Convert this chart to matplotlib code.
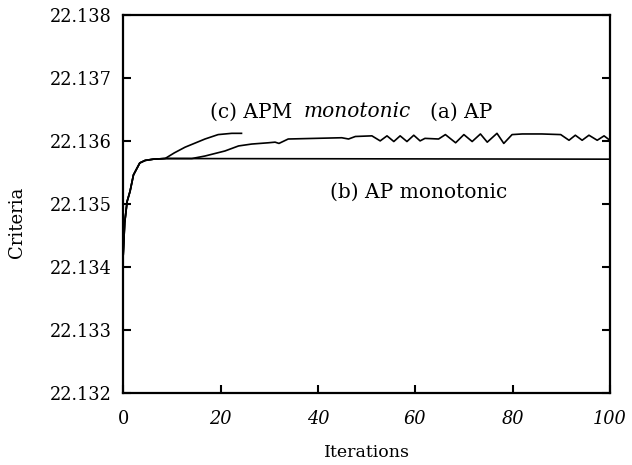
import matplotlib.pyplot as plt
import matplotlib.ticker as mticker

plt.rcParams['font.family'] = ['DejaVu Serif']

# common start of the three runs
start_x = [0, 0.3, 0.8, 1.4, 2.1, 3.4, 4.5, 6.2, 8.6]
start_y = [22.1342, 22.1347, 22.13504, 22.13520, 22.13546, 22.13565, 22.13569, 22.13571, 22.13572]

# (b) AP monotonic
b_x = start_x + [100]
b_y = start_y + [22.13571]

# (c) APM monotonic
c_x = start_x + [10.5, 12.7, 16.8, 19.5, 22.3, 24.3]
c_y = start_y + [22.13581, 22.13590, 22.13603, 22.13610, 22.13612, 22.13612]

# (a) AP
a_x = start_x + [14.1, 16.8, 20.9, 23.7, 26.4, 29.8, 31.2, 32.0, 33.9, 39.4, 44.9,
                 46.3, 47.7, 51.1, 52.8, 54.2, 55.6, 56.9, 58.3, 59.7, 61.0, 62.0,
                 64.8, 66.2, 68.3, 70.0, 71.7, 73.4, 74.8, 76.8, 78.2, 79.9, 82.0,
                 86.0, 89.9, 91.6, 92.9, 94.3, 95.7, 97.4, 98.8, 100]
a_y = start_y + [22.13572, 22.13576, 22.13584, 22.13592, 22.13595, 22.13597, 22.13598,
                 22.13596, 22.13603, 22.13604, 22.13605, 22.13603, 22.13607, 22.13608,
                 22.13600, 22.13608, 22.13599, 22.13608, 22.13599, 22.13609, 22.13600,
                 22.13604, 22.13603, 22.13610, 22.13597, 22.13610, 22.13599, 22.13611,
                 22.13598, 22.13612, 22.13596, 22.13610, 22.13611, 22.13611, 22.13610,
                 22.13601, 22.13609, 22.13601, 22.13609, 22.13601, 22.13608, 22.13601]

x_ticks = [0, 20, 40, 60, 80, 100]
y_ticks = [22.132, 22.133, 22.134, 22.135, 22.136, 22.137, 22.138]

fig = plt.figure(figsize=(6.32, 4.65), dpi=100)
ax = fig.add_axes([0.195, 0.155, 0.77, 0.813])

for xs, ys in [(b_x, b_y), (c_x, c_y), (a_x, a_y)]:
    ax.plot(xs, ys, color='black', lw=1.2)

ax.set_xlim(0, 100)
ax.set_ylim(22.132, 22.138)
ax.set_xticks(x_ticks)
ax.set_yticks(y_ticks)
ax.yaxis.set_major_formatter(mticker.FormatStrFormatter('%.3f'))
ax.tick_params(direction='in', length=6, width=1.5, labelsize=12.8, pad=8)
ax.tick_params(axis='x', pad=12)
ax.tick_params(axis='y', right=True)
for lbl in ax.get_xticklabels()[1:]:
    lbl.set_fontstyle('italic')
for s in ax.spines.values():
    s.set_linewidth(1.6)

ax.text(17.9, 22.13646, '(c) APM', fontsize=14.5, va='center')
ax.text(37.0, 22.13646, 'monotonic', fontsize=14.5, va='center', style='italic')
ax.text(63.0, 22.13646, '(a) AP', fontsize=14.5, va='center')
ax.text(42.5, 22.13519, '(b) AP monotonic', fontsize=14.5, va='center')

ax.set_xlabel('Iterations', fontsize=12.5)
ax.xaxis.set_label_coords(0.5, -0.135)
ax.set_ylabel('Criteria', fontsize=13)
ax.yaxis.set_label_coords(-0.200, 0.452)

fig.savefig('out.png', dpi=100)
